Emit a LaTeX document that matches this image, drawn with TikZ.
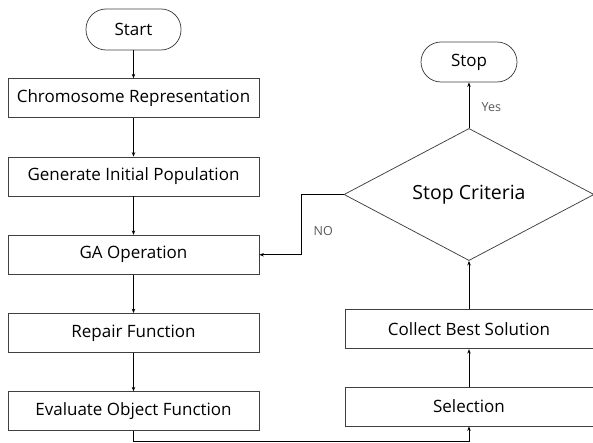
\documentclass[tikz,border=0pt]{standalone}
\usepackage{fontspec}
\setmainfont{Open Sans}
\usepackage{tikz}
\usetikzlibrary{shapes.geometric, arrows.meta, positioning, calc}

\begin{document}
\begin{tikzpicture}[
    x=1pt, y=-1pt,
    line width=0.75pt,
    node distance=38.5pt,
    box/.style={rectangle, draw=black!75, minimum width=251pt, minimum height=39pt, inner sep=0pt, font=\fontsize{17}{19}\selectfont},
    term/.style={rectangle, rounded corners=20pt, draw=black!75, minimum width=95pt, minimum height=41pt, inner sep=0pt, font=\fontsize{17}{19}\selectfont},
    decision/.style={diamond, draw=black!75, minimum width=250pt, minimum height=117pt, inner sep=0pt, font=\fontsize{19.5}{21}\selectfont},
    answer/.style={font=\fontsize{12.5}{14}\selectfont, text=black!65},
    arrow/.style={->,>={Stealth[length=4.5pt,width=3.5pt]}}
]
\useasboundingbox (0,0) rectangle (593,443);

% left column
\node[term] (start) at (133.5,29.5) {Start};
\node[box, below=28pt of start] (chrom) {Chromosome Representation};
\node[box, below=of chrom] (init) {Generate Initial Population};
\node[box, below=of init] (ga) {GA Operation};
\node[box, below=of ga] (repair) {Repair Function};
\node[box, below=of repair] (eval) {Evaluate Object Function};

% right column
\node[box, minimum width=248pt] (select) at (469,406.5) {Selection};
\node[box, minimum width=248pt, above=37.5pt of select] (collect) {Collect Best Solution};
\node[decision] (crit) at (469,194.5) {Stop Criteria};
\node[term, minimum width=96pt, minimum height=40pt] (stop) at (469,62) {Stop};

\coordinate (low) at (0,441.5);
\coordinate (bend) at (301,0);

\draw[arrow] (start) -- (chrom);
\draw[arrow] (chrom) -- (init);
\draw[arrow] (init) -- (ga);
\draw[arrow] (ga) -- (repair);
\draw[arrow] (repair) -- (eval);
\draw[arrow] (eval.south) -- (eval.south |- low) -| (select.south);
\draw[arrow] (select) -- (collect);
\draw[arrow] (collect) -- (crit);
\draw[arrow] (crit) -- node[answer, right=9pt, pos=0.45] {Yes} (stop);
\draw[arrow] (crit.west) -- (crit.west -| bend) |- node[answer, right=9pt, pos=0.3] {NO} (ga.east);

\end{tikzpicture}
\end{document}
